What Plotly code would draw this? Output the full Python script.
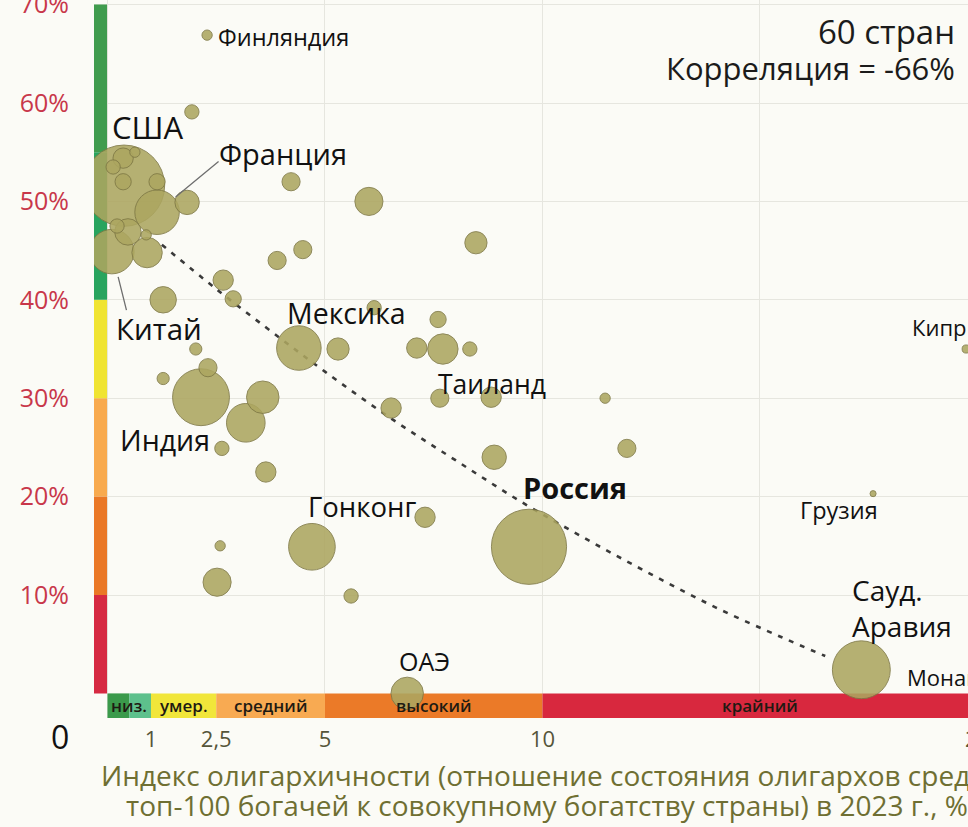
import plotly.graph_objects as go

# ---------------- data ----------------
countries = [
    "Финляндия", "c2", "США", "c4", "c5", "c6", "c7", "c8", "Франция", "c10",
    "c11", "c12", "c13", "Китай", "c15", "c16", "c17", "c18", "c19", "c20",
    "c21", "c22", "c23", "Мексика", "c25", "c26", "c27", "c28", "c29", "c30",
    "c31", "c32", "Индия", "c34", "c35", "c36", "c37", "c38", "Гонконг", "c40",
    "c41", "c42", "c43", "ОАЭ", "c45", "c46", "Таиланд", "c48", "c49", "c50",
    "Россия", "Грузия", "Сауд. Аравия", "Кипр", "Монако",
]
oligarchy_index = [
    2.29, 1.94, 0.38, 0.63, 0.36, 0.13, 0.36, 1.14, 1.14, 1.83,
    0.22, 0.47, 0.89, 0.10, 0.91, 1.28, 2.66, 2.89, 3.90, 4.49,
    4.22, 6.01, 8.47, 4.40, 5.30, 6.13, 7.60, 7.11, 7.71, 8.33,
    2.03, 1.28, 2.15, 2.31, 3.57, 3.18, 2.63, 3.64, 4.70, 7.30,
    2.59, 2.52, 5.60, 6.89, 6.52, 7.64, 8.82, 8.89, 11.94, 11.44,
    9.69, 17.60, 17.33, 19.74, 20.50,
]
share_pct = [
    66.9, 59.1, 51.6, 55.0, 54.4, 53.5, 52.0, 52.0, 48.9, 49.9,
    47.5, 46.9, 46.6, 44.9, 44.8, 40.0, 42.0, 40.1, 44.0, 45.1,
    52.0, 50.0, 45.8, 35.1, 35.0, 39.2, 38.0, 35.1, 35.0, 35.0,
    35.0, 32.0, 30.1, 33.1, 30.1, 27.5, 24.9, 22.5, 14.9, 17.9,
    15.0, 11.3, 9.9, 0.0, 29.0, 30.0, 30.1, 24.0, 24.9, 30.0,
    14.9, 20.3, 2.4, 35.0, 1.4,
]
bubble_weight = [
    1.6, 3.1, 100, 1.6, 6.25, 3.1, 4, 4, 30, 9,
    3.1, 10.6, 1.6, 30, 14, 10.6, 6.25, 4, 5, 5,
    5, 12, 7.5, 30, 7.5, 3.1, 4, 6.25, 14, 3.1,
    2.25, 2.25, 49, 5, 16, 22.6, 3.1, 6.25, 33, 6.25,
    1.6, 12, 3.1, 16, 6.25, 5, 6.25, 9, 5, 1.6,
    85.6, 0.56, 50.8, 1.0, 1.0,
]

trend_x = [1.25, 2.5, 4.0, 5.0, 6.5, 8.0, 9.5, 11.0, 12.5, 14.0, 15.5, 16.5]
trend_y = [45.6, 41.1, 36.0, 32.7, 28.0, 23.7, 19.5, 15.7, 12.1, 8.7, 5.7, 3.8]

x_tick_vals = [1, 2.5, 5, 10]
x_tick_text = ["1", "2,5", "5", "10"]
x_edge_tick = 20
y_tick_vals = [10, 20, 30, 40, 50, 60, 70]
y_tick_text = ["10%", "20%", "30%", "40%", "50%", "60%", "70%"]

x_bands = [(0, 0.5, ""), (0.5, 1, ""), (1, 2.5, "умер."), (2.5, 5, "средний"),
           (5, 10, "высокий"), (10, 20.5, "крайний")]
x_band_colors = ["#3b9a4b", "#5dc08c", "#f1e63a", "#f8aa52", "#eb7a28", "#d8283e"]
low_label = ("низ.", 0, 1)
y_bands = [(0, 10), (10, 20), (20, 30), (30, 40), (40, 55), (55, 70)]
y_band_colors = ["#d62a42", "#ea7826", "#f8aa4e", "#f0e432", "#28a45e", "#409c4e"]

n_countries = 60
correlation = -66

# ---------------- geometry ----------------
W, H = 968, 827
ML, MT, MB = 94, 0, 109
PLOT_W, PLOT_H = W - ML, H - MT - MB
X_RANGE = [-0.31, 19.782]
Y_RANGE = [-2.5, 70.47]
FONT = "Open Sans"

def px(x):
    return (x - X_RANGE[0]) / (X_RANGE[1] - X_RANGE[0])

def py(y):
    return (y - Y_RANGE[0]) / (Y_RANGE[1] - Y_RANGE[0])

fig = go.Figure()

# trend line
fig.add_trace(go.Scatter(
    x=trend_x, y=trend_y, mode="lines", line_shape="spline",
    line=dict(color="#3a3a3a", width=2.6, dash="5px,7px"),
    hoverinfo="skip", showlegend=False))

# bubbles, largest first
order = sorted(range(len(countries)), key=lambda i: -bubble_weight[i])
fig.add_trace(go.Scatter(
    x=[oligarchy_index[i] for i in order],
    y=[share_pct[i] for i in order],
    text=[countries[i] for i in order],
    mode="markers",
    marker=dict(size=[bubble_weight[i] for i in order], sizemode="area",
                sizeref=1 / 33, color="rgb(172,166,96)", opacity=0.88,
                line=dict(color="rgb(128,122,70)", width=1)),
    hoverinfo="text", showlegend=False))

shapes = []
for (a, b), c in zip(y_bands, y_band_colors):
    shapes.append(dict(type="rect", xref="x", yref="y", x0=X_RANGE[0], x1=-0.01,
                       y0=a, y1=b, fillcolor=c, line_width=0, layer="between"))
for (a, b, _), c in zip(x_bands, x_band_colors):
    shapes.append(dict(type="rect", xref="x", yref="y", x0=a, x1=b,
                       y0=Y_RANGE[0], y1=0, fillcolor=c, line_width=0, layer="between"))

ann = []
def A(**k):
    base = dict(showarrow=False, xanchor="center", yanchor="middle",
                font=dict(family=FONT, color="#1b1b1b", size=22))
    base.update(k)
    ann.append(base)

band_font = dict(family=FONT, color="#1e1a12", size=17, weight=600)
for a, b, t in x_bands:
    if t:
        A(x=(a + min(b, 20)) / 2, y=Y_RANGE[0] / 2, text=t, font=band_font)
A(x=(low_label[1] + low_label[2]) / 2, y=Y_RANGE[0] / 2, text=low_label[0], font=band_font)

idx = {c: i for i, c in enumerate(countries)}
# label specs: country, xshift, yshift, xanchor, size, weight
labels = [
    ("Финляндия", 9, -2, "left", 23.5, 400),
    ("США", 24, 59, "center", 31, 400),
    ("Франция", 126, 59, "center", 29, 400),
    ("Китай", 47, -77, "center", 29.5, 400),
    ("Мексика", 48, 35, "center", 28.5, 400),
    ("Таиланд", 1, 13, "center", 26.5, 400),
    ("Индия", -36, -43, "center", 28.5, 400),
    ("Гонконг", 50, 40, "center", 27.5, 400),
    ("Россия", 46, 59, "center", 29, 700),
    ("Грузия", -34, -16, "center", 23.5, 400),
    ("ОАЭ", 17, 32, "center", 25, 400),
    ("Кипр", -56, 22, "left", 22, 400),
]
for name, dx, dy, xa, sz, wt in labels:
    i = idx[name]
    A(x=oligarchy_index[i], y=share_pct[i], text=name, xanchor=xa, xshift=dx, yshift=dy,
      font=dict(family=FONT, color="#111", size=sz, weight=wt))
i = idx["Сауд. Аравия"]
A(x=oligarchy_index[i], y=share_pct[i], text="Сауд.<br>Аравия", align="left",
  xanchor="left", xshift=-11, yshift=62, font=dict(family=FONT, color="#111", size=28))
i = idx["Монако"]
A(xref="paper", yref="paper", x=px(oligarchy_index[i]), y=py(share_pct[i]), text="Монако",
  xanchor="right", xshift=-6, yshift=3, font=dict(family=FONT, color="#111", size=22))

# leader lines
for name, tx, ty, so in [("Франция", 63, -52, 24), ("Китай", 15, 60, 26)]:
    i = idx[name]
    A(x=oligarchy_index[i], y=share_pct[i], text="", showarrow=True, arrowhead=0,
      ax=tx, ay=ty, standoff=so, arrowwidth=1.3, arrowcolor="#6e6e6e")

A(xref="paper", yref="paper", x=1 - 11 / PLOT_W, y=1 - 31 / PLOT_H, text=f"{n_countries} стран",
  xanchor="right", font=dict(family=FONT, color="#1b1b1b", size=33))
A(xref="paper", yref="paper", x=1 - 11 / PLOT_W, y=1 - 68 / PLOT_H,
  text=f"Корреляция = {correlation}%",
  xanchor="right", font=dict(family=FONT, color="#1b1b1b", size=31))

# corner zero & clipped 20 tick
A(xref="paper", yref="paper", x=px(0) - 47.5 / PLOT_W, y=0, yshift=-18,
  text="0", font=dict(family=FONT, color="#111", size=32))
A(xref="paper", yref="paper", x=px(x_edge_tick), y=0, yshift=-20,
  text=str(x_edge_tick), font=dict(family=FONT, color="#55553a", size=22))

# axis title (two lines)
title_col = "#6f6f32"
A(xref="paper", yref="paper", x=5 / PLOT_W, y=0, yshift=-57, xanchor="left",
  text="Индекс олигархичности (отношение состояния олигархов среди",
  font=dict(family=FONT, color=title_col, size=28))
A(xref="paper", yref="paper", x=30 / PLOT_W, y=0, yshift=-87, xanchor="left",
  text="топ-100 богачей к совокупному богатству страны) в 2023 г., %",
  font=dict(family=FONT, color=title_col, size=28))

fig.update_layout(
    width=W, height=H,
    margin=dict(l=ML, r=0, t=MT, b=MB, pad=0, autoexpand=False),
    paper_bgcolor="#fbfbf6", plot_bgcolor="#fbfbf6",
    shapes=shapes, annotations=ann, showlegend=False,
    xaxis=dict(range=X_RANGE, tickvals=x_tick_vals, ticktext=x_tick_text,
               showgrid=False, zeroline=False, showline=False, ticks="",
               ticklabelstandoff=6, automargin=False,
               tickfont=dict(family=FONT, color="#55553a", size=22),
               minor=dict(tick0=0, dtick=5, showgrid=True, gridcolor="#e6e6df",
                          gridwidth=1, ticks="")),
    yaxis=dict(range=Y_RANGE, tickvals=y_tick_vals, ticktext=y_tick_text,
               showgrid=True, gridcolor="#e6e6df", gridwidth=1, zeroline=False,
               showline=False, ticks="", ticklabelstandoff=24, automargin=False,
               ticklabeloverflow="allow",
               tickfont=dict(family=FONT, color="#c8374a", size=25)),
)

fig.write_html("out.html", config={"displayModeBar": False},
               post_script="document.body.style.margin='0';document.body.style.overflow='hidden';")
